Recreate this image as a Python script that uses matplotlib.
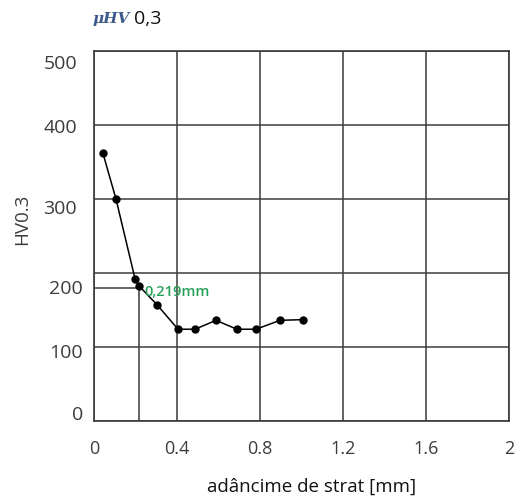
import matplotlib
matplotlib.use("Agg")
import matplotlib.pyplot as plt
import matplotlib.transforms as mtransforms

# data
depth_mm = [0.043, 0.106, 0.198, 0.219, 0.304, 0.405, 0.487, 0.588, 0.689, 0.781, 0.896, 1.007]
hardness = [362, 300, 192, 182, 157, 124, 124, 136, 124, 124, 136, 137]
case_depth = 0.219
case_hv = 180

x_ticks = [0, 0.4, 0.8, 1.2, 1.6, 2.0]
x_tick_labels = ["0", "0.4", "0.8", "1.2", "1.6", "2"]
y_grid = [0, 100, 200, 300, 400, 500]
y_tick_labels = ["0", "100", "200", "300", "400", "500"]
# the labels in the scan sit a bit off the grid lines
y_label_pos = [9, 93, 180, 288, 397, 484]

plt.rcParams["font.family"] = ["Open Sans", "DejaVu Sans"]
fig = plt.figure(figsize=(5.19, 5.02), dpi=100)
ax = fig.add_axes([0.1811, 0.1594, 0.7996, 0.737])

grid_col = "#3a3a3a"
txt_col = "#3c3c3c"
ax.plot(depth_mm, hardness, color="black", lw=1.1, marker="o", ms=5, zorder=5)

# case depth marker lines
ax.plot([0, case_depth], [case_hv, case_hv], color=grid_col, lw=1.1, zorder=3)
ax.plot([case_depth, case_depth], [0, case_hv], color=grid_col, lw=1.1, zorder=3)
ax.text(case_depth + 0.025, case_hv - 5, "0,219mm", color="#2aa05a", fontsize=10.5,
        fontweight="semibold", va="center", ha="left", zorder=6)

ax.set_xlim(0, 2.0)
ax.set_ylim(0, 500)
ax.set_xticks(x_ticks)
ax.set_xticklabels(x_tick_labels, fontsize=13, color=txt_col)
ax.set_yticks(y_grid)
ax.set_yticklabels([])
ax.tick_params(axis="both", length=0)
ax.tick_params(axis="x", pad=13)
ax.grid(True, color=grid_col, lw=1.1)
ax.set_axisbelow(True)
for s in ax.spines.values():
    s.set_color(grid_col)
    s.set_linewidth(1.2)

trans = mtransforms.blended_transform_factory(ax.transAxes, ax.transData)
for lab, yp in zip(y_tick_labels, y_label_pos):
    xr = -0.027 if yp < 250 else -0.041
    ax.text(xr, yp, lab, transform=trans, ha="right", va="center",
            fontsize=14, color=txt_col)

fig.text(0.042, 0.563, "HV0.3", rotation=90, ha="center", va="center",
         fontsize=13.5, color=txt_col)
fig.text(0.601, 0.03, "adâncime de strat [mm]", ha="center", va="center",
         fontsize=13.5, color="#111111")

fig.text(0.178, 0.962, "\u03bcHV", ha="left", va="center", fontsize=11,
         color="#3b5a8a", family="DejaVu Serif", style="italic", fontweight="bold")
fig.text(0.258, 0.962, "0,3", ha="left", va="center", fontsize=14, color="#111111")

fig.savefig("out.png", dpi=100)
